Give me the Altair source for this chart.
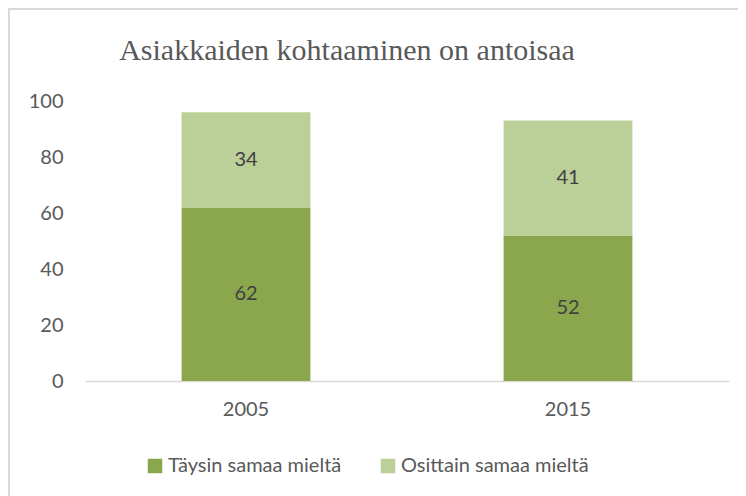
import altair as alt
import pandas as pd

years = ["2005", "2015"]
series = ["Täysin samaa mieltä", "Osittain samaa mieltä"]
taysin = [62, 52]
osittain = [34, 41]
colors = ["#8BA74D", "#BBCF98"]
title_text = "Asiakkaiden kohtaaminen on antoisaa"

rows = []
for i, y in enumerate(years):
    rows.append({"year": y, "series": series[0], "value": taysin[i], "order": 0})
    rows.append({"year": y, "series": series[1], "value": osittain[i], "order": 1})
df = pd.DataFrame(rows)

W, H = 644, 280
base = alt.Chart(df)

x_enc = alt.X("year:N", title=None,
              scale=alt.Scale(paddingInner=0.6, paddingOuter=0.3),
              axis=alt.Axis(labelAngle=0, domainColor="#d9d9d9", domainWidth=1.5,
                            ticks=False, labelPadding=18, labelFont="Lato",
                            labelFontSize=20, labelColor="#595959", grid=False))

bars = base.mark_bar().encode(
    x=x_enc,
    y=alt.Y("value:Q", stack="zero", title=None,
            scale=alt.Scale(domain=[0, 100]),
            axis=alt.Axis(values=[0, 20, 40, 60, 80, 100], domain=False, ticks=False,
                          grid=False, labelPadding=22, labelFont="Lato",
                          labelFontSize=20, labelColor="#595959")),
    color=alt.Color("series:N", scale=alt.Scale(domain=series, range=colors),
                    legend=alt.Legend(title=None, orient="none", legendX=60, legendY=355,
                                      direction="horizontal", symbolType="square",
                                      symbolSize=210, symbolStrokeWidth=0,
                                      labelFont="Lato", labelFontSize=20,
                                      labelColor="#595959", labelOffset=3,
                                      labelLimit=0, columnPadding=36)),
    order=alt.Order("order:Q"),
)

labels = base.transform_stack(
    stack="value", groupby=["year"], as_=["v0", "v1"],
    sort=[alt.SortField("order", order="ascending")]
).transform_calculate(mid="(datum.v0 + datum.v1) / 2").mark_text(
    font="Lato", fontSize=20, color="#404040", baseline="middle"
).encode(
    x=alt.X("year:N"),
    y=alt.Y("mid:Q"),
    text=alt.Text("value:Q"),
)

one = alt.Chart(pd.DataFrame({"t": [title_text]}))
frame = one.mark_rect(fill=None, stroke="#d9d9d9", strokeWidth=2).encode(
    x=alt.value(-76), x2=alt.value(720), y=alt.value(-92), y2=alt.value(460)
)
title = one.mark_text(font="Liberation Serif", fontSize=30, color="#595959",
                      align="center", baseline="alphabetic").encode(
    x=alt.value(262), y=alt.value(-41), text="t:N"
)

chart = alt.layer(frame, bars, labels, title).properties(
    width=W, height=H,
    background="white",
    autosize=alt.AutoSizeParams(type="none"),
    padding={"left": 77, "top": 93, "right": 9, "bottom": 115},
).configure_view(stroke=None)

chart.save("out.html", embed_options={"renderer": "svg", "actions": False})
